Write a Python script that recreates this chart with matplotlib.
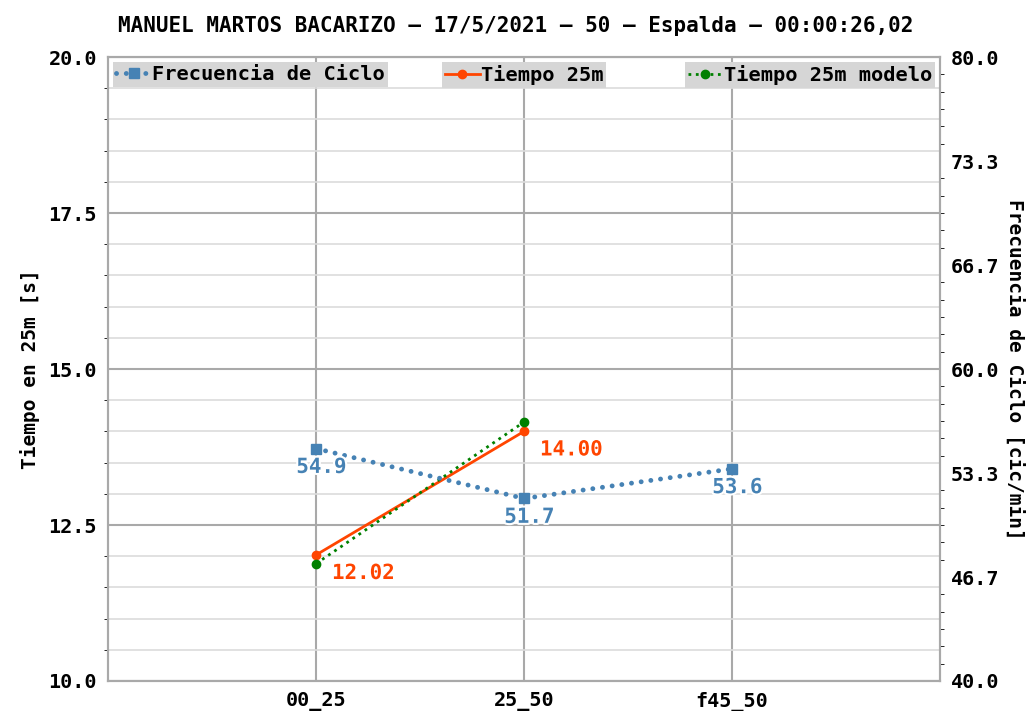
import numpy as np
import matplotlib.pyplot as plt
import matplotlib.patheffects as pe
from matplotlib.ticker import MultipleLocator, AutoMinorLocator, FormatStrFormatter

plt.rcParams['font.family'] = ['DejaVu Sans Mono']
plt.rcParams['font.weight'] = 'bold'
plt.rcParams['axes.labelweight'] = 'bold'
plt.rcParams['figure.titleweight'] = 'bold'
plt.rcParams['font.size'] = 14.5

# Datos
tramos = ['00_25', '25_50', 'f45_50']
frecuencia = [54.9, 51.7, 53.6]
tiempo_25m = [12.02, 14.00]
tiempo_modelo = [11.88, 14.15]
titulo = "MANUEL MARTOS BACARIZO – 17/5/2021 – 50 – Espalda – 00:00:26,02"

x = np.arange(len(tramos))

fig = plt.figure(figsize=(10.31, 7.11), dpi=100)
ax1 = fig.add_axes([0.1048, 0.0422, 0.8069, 0.8776])
ax2 = ax1.twinx()

# Eje izquierdo: tiempos
l2, = ax1.plot(x[:2], tiempo_25m, color='orangered', lw=2, marker='o', ms=6,
               label='Tiempo 25m', zorder=4)
l3, = ax1.plot(x[:2], tiempo_modelo, color='green', lw=2, ls=':', marker='o', ms=6,
               label='Tiempo 25m modelo', zorder=4)
for xi, v in zip(x[:2], tiempo_25m):
    ax1.annotate(f"{v:.2f}", (xi, v), xytext=(11.5, -13), textcoords='offset points',
                 ha='left', va='center', color='orangered', fontsize=15,
                 path_effects=[pe.withStroke(linewidth=3, foreground='white')])

ax1.set_xlim(-1, 3)
ax1.set_ylim(10, 20)
ax1.set_xticks(x)
ax1.set_xticklabels(tramos)
ax1.yaxis.set_major_locator(MultipleLocator(2.5))
ax1.yaxis.set_minor_locator(MultipleLocator(0.5))
ax1.yaxis.set_major_formatter(FormatStrFormatter('%.1f'))
ax1.set_ylabel("Tiempo en 25m [s]", fontsize=14, labelpad=6)
ax1.grid(True, which='major', color='#a9a9a9', lw=1.5)
ax1.grid(True, which='minor', axis='y', color='#dcdcdc', lw=1.2)
ax1.tick_params(which='major', length=0, pad=8)
ax1.tick_params(which='minor', length=3)

# Eje derecho: frecuencia
l1, = ax2.plot(x, frecuencia, color='steelblue', lw=3.5, ls=(0, (0.01, 2.0)),
               marker='s', ms=7, dash_capstyle='round',
               label='Frecuencia de Ciclo', zorder=3)
for xi, v in zip(x, frecuencia):
    ax2.annotate(f"{v:.1f}", (xi, v), xytext=(4, -6), textcoords='offset points',
                 ha='center', va='top', color='steelblue', fontsize=15,
                 path_effects=[pe.withStroke(linewidth=3, foreground='white')])
ax2.set_ylim(40, 80)
ax2.set_yticks(np.linspace(40, 80, 7))
ax2.yaxis.set_major_formatter(FormatStrFormatter('%.1f'))
ax2.yaxis.set_minor_locator(AutoMinorLocator(6))
ax2.set_ylabel("Frecuencia de Ciclo [cic/min]", fontsize=14, rotation=270, labelpad=18)
ax2.tick_params(which='major', length=0, pad=8)
ax2.tick_params(which='minor', length=3)

for ax in (ax1, ax2):
    for s in ax.spines.values():
        s.set_color('#a9a9a9')
        s.set_linewidth(1.5)

# Leyendas separadas, una por serie
leg_kw = dict(fontsize=14.7, frameon=True, facecolor='#d6d6d6', edgecolor='none',
              framealpha=1, fancybox=False, borderpad=0.15, borderaxespad=0.25,
              handlelength=1.7, handletextpad=0.05)
leg1 = ax2.legend(handles=[l1], loc='upper left', **leg_kw)
ax2.add_artist(leg1)
leg2 = ax2.legend(handles=[l2], loc='upper center', **leg_kw)
ax2.add_artist(leg2)
ax2.legend(handles=[l3], loc='upper right', **leg_kw)

fig.suptitle(titulo, fontsize=15, y=0.978)

fig.savefig("out.png", dpi=100)
